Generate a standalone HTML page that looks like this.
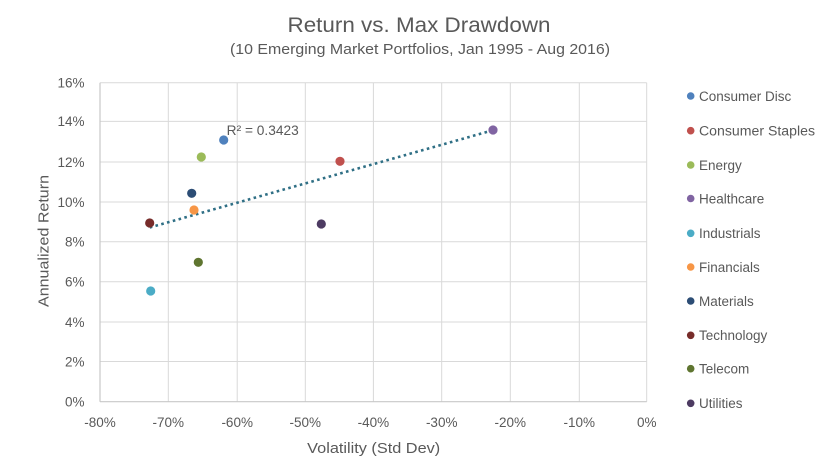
<!DOCTYPE html>
<html><head><meta charset="utf-8"><style>
html,body{margin:0;padding:0;background:#fff;}
svg{display:block;font-family:"Liberation Sans",sans-serif;}
</style></head><body>
<svg width="836" height="474" viewBox="0 0 836 474" xmlns="http://www.w3.org/2000/svg">
<rect width="836" height="474" fill="#fff"/>
<text x="419" y="32" text-anchor="middle" font-size="21" fill="#595959" textLength="263" lengthAdjust="spacingAndGlyphs">Return vs. Max Drawdown</text>
<text x="420" y="54" text-anchor="middle" font-size="15" fill="#595959" textLength="380" lengthAdjust="spacingAndGlyphs">(10 Emerging Market Portfolios, Jan 1995 - Aug 2016)</text>
<g stroke="#D9D9D9" stroke-width="1" fill="none">
<line x1="100" y1="82.7" x2="646.7" y2="82.7"/>
<line x1="100" y1="121.4" x2="646.7" y2="121.4"/>
<line x1="100" y1="162" x2="646.7" y2="162"/>
<line x1="100" y1="202" x2="646.7" y2="202"/>
<line x1="100" y1="241.7" x2="646.7" y2="241.7"/>
<line x1="100" y1="281.7" x2="646.7" y2="281.7"/>
<line x1="100" y1="322" x2="646.7" y2="322"/>
<line x1="100" y1="361.5" x2="646.7" y2="361.5"/>
<line x1="168.3" y1="82.7" x2="168.3" y2="401.7"/>
<line x1="237.2" y1="82.7" x2="237.2" y2="401.7"/>
<line x1="305.3" y1="82.7" x2="305.3" y2="401.7"/>
<line x1="373.4" y1="82.7" x2="373.4" y2="401.7"/>
<line x1="441.7" y1="82.7" x2="441.7" y2="401.7"/>
<line x1="510.3" y1="82.7" x2="510.3" y2="401.7"/>
<line x1="579.3" y1="82.7" x2="579.3" y2="401.7"/>
<line x1="646.7" y1="82.7" x2="646.7" y2="401.7"/>
</g>
<g stroke="#C8C8C8" stroke-width="1.2">
<line x1="100" y1="82.7" x2="100" y2="401.7"/>
<line x1="100" y1="401.7" x2="646.7" y2="401.7"/>
</g>
<g font-size="13.5" fill="#595959" text-anchor="end">
<text x="84.5" y="87.5">16%</text>
<text x="84.5" y="126.2">14%</text>
<text x="84.5" y="166.8">12%</text>
<text x="84.5" y="206.8">10%</text>
<text x="84.5" y="246.5">8%</text>
<text x="84.5" y="286.5">6%</text>
<text x="84.5" y="326.8">4%</text>
<text x="84.5" y="366.3">2%</text>
<text x="84.5" y="406.5">0%</text>
</g>
<g font-size="13.5" fill="#595959" text-anchor="middle">
<text x="100" y="427">-80%</text>
<text x="168.3" y="427">-70%</text>
<text x="237.2" y="427">-60%</text>
<text x="305.3" y="427">-50%</text>
<text x="373.4" y="427">-40%</text>
<text x="441.7" y="427">-30%</text>
<text x="510.3" y="427">-20%</text>
<text x="579.3" y="427">-10%</text>
<text x="646.7" y="427">0%</text>
</g>
<text x="373.7" y="453" text-anchor="middle" font-size="15" fill="#595959" textLength="133" lengthAdjust="spacingAndGlyphs">Volatility (Std Dev)</text>
<text transform="translate(48.5,241) rotate(-90)" x="0" y="0" text-anchor="middle" font-size="15" fill="#595959" textLength="132" lengthAdjust="spacingAndGlyphs">Annualized Return</text>
<line x1="149.7" y1="227.5" x2="492" y2="130.5" stroke="#2F6F85" stroke-width="2.6" stroke-dasharray="2.6 3.4"/>
<g>
<circle cx="223.7" cy="140" r="4.6" fill="#4F81BD"/>
<circle cx="340" cy="161.3" r="4.6" fill="#C0504D"/>
<circle cx="201.3" cy="157" r="4.6" fill="#9BBB59"/>
<circle cx="493" cy="130" r="4.6" fill="#8064A2"/>
<circle cx="150.7" cy="291" r="4.6" fill="#4BACC6"/>
<circle cx="194" cy="210" r="4.6" fill="#F79646"/>
<circle cx="191.7" cy="193.3" r="4.6" fill="#2C4D75"/>
<circle cx="149.7" cy="223" r="4.6" fill="#772C2A"/>
<circle cx="198.3" cy="262.3" r="4.6" fill="#5F7530"/>
<circle cx="321.3" cy="224" r="4.6" fill="#4D3B62"/>
</g>
<text x="226.7" y="135" font-size="13.5" fill="#595959" textLength="72" lengthAdjust="spacingAndGlyphs">R² = 0.3423</text>
<g font-size="13.5" fill="#595959">
<circle cx="690.7" cy="96" r="3.8" fill="#4F81BD"/><text x="699" y="100.8">Consumer Disc</text>
<circle cx="690.7" cy="130.7" r="3.8" fill="#C0504D"/><text x="699" y="135.5" textLength="116" lengthAdjust="spacingAndGlyphs">Consumer Staples</text>
<circle cx="690.7" cy="165" r="3.8" fill="#9BBB59"/><text x="699" y="169.8">Energy</text>
<circle cx="690.7" cy="198.5" r="3.8" fill="#8064A2"/><text x="699" y="203.3">Healthcare</text>
<circle cx="690.7" cy="233.3" r="3.8" fill="#4BACC6"/><text x="699" y="238.1">Industrials</text>
<circle cx="690.7" cy="267" r="3.8" fill="#F79646"/><text x="699" y="271.8">Financials</text>
<circle cx="690.7" cy="301" r="3.8" fill="#2C4D75"/><text x="699" y="305.8">Materials</text>
<circle cx="690.7" cy="335.3" r="3.8" fill="#772C2A"/><text x="699" y="340.1">Technology</text>
<circle cx="690.7" cy="368.7" r="3.8" fill="#5F7530"/><text x="699" y="373.5">Telecom</text>
<circle cx="690.7" cy="403.3" r="3.8" fill="#4D3B62"/><text x="699" y="408.1">Utilities</text>
</g>
</svg>
</body></html>
